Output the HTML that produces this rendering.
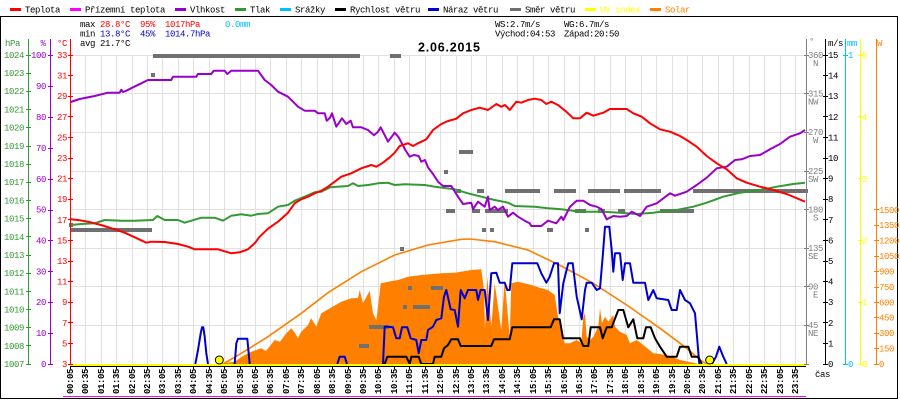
<!DOCTYPE html>
<html><head><meta charset="utf-8"><style>
html,body{margin:0;padding:0;background:#fff;}
svg{display:block;}
.t{font-family:"Liberation Mono","DejaVu Sans Mono",monospace;font-size:9px;letter-spacing:-0.4px;}
.b{font-weight:bold;}
</style></head><body>
<svg width="900" height="400" viewBox="0 0 900 400" xmlns="http://www.w3.org/2000/svg">
<rect x="0" y="0" width="900" height="400" fill="#fff"/>
<!-- frame -->
<g fill="none" stroke="#000" stroke-width="1" shape-rendering="crispEdges">
<line x1="0" y1="16.5" x2="898" y2="16.5"/>
<line x1="0.5" y1="16" x2="0.5" y2="399"/>
<line x1="897.5" y1="16" x2="897.5" y2="399"/>
<line x1="0" y1="398.5" x2="898" y2="398.5"/>
</g>
<!-- legend -->
<g shape-rendering="crispEdges">
<rect x="10" y="8" width="11" height="3" fill="#ff0000"/>
<rect x="70" y="8" width="11" height="3" fill="#ff00ff"/>
<rect x="175" y="8" width="11" height="3" fill="#9900cc"/>
<rect x="235" y="8" width="11" height="3" fill="#339933"/>
<rect x="280" y="8" width="11" height="3" fill="#00bfff"/>
<rect x="335" y="8" width="11" height="3" fill="#000000"/>
<rect x="428" y="8" width="11" height="3" fill="#0000cc"/>
<rect x="510" y="8" width="11" height="3" fill="#707070"/>
<rect x="585" y="8" width="11" height="3" fill="#ffff00"/>
<rect x="650" y="8" width="11" height="3" fill="#ff8000"/>
</g>
<g class="t" fill="#000">
<text x="25" y="12.5">Teplota</text>
<text x="85" y="12.5">Přízemní teplota</text>
<text x="190" y="12.5">Vlhkost</text>
<text x="250" y="12.5">Tlak</text>
<text x="295" y="12.5">Srážky</text>
<text x="350" y="12.5">Rychlost větru</text>
<text x="443" y="12.5">Náraz větru</text>
<text x="525" y="12.5">Směr větru</text>
<text x="600" y="12.5" fill="#ffff00">UV index</text>
<text x="665" y="12.5" fill="#ff8000">Solar</text>
</g>
<!-- stats -->
<g class="t">
<text x="80" y="27" fill="#000">max</text>
<text x="100" y="27" fill="#ff0000">28.8°C</text>
<text x="140" y="27" fill="#ff0000">95%</text>
<text x="165" y="27" fill="#ff0000">1017hPa</text>
<text x="225" y="27" fill="#00bfff">0.0mm</text>
<text x="80" y="36.5" fill="#000">min</text>
<text x="100" y="36.5" fill="#0000cc">13.8°C</text>
<text x="140" y="36.5" fill="#0000cc">45%</text>
<text x="165" y="36.5" fill="#0000cc">1014.7hPa</text>
<text x="80" y="46" fill="#000">avg 21.7°C</text>
<text x="495" y="27" fill="#000">WS:2.7m/s</text>
<text x="564" y="27" fill="#000">WG:6.7m/s</text>
<text x="495" y="36.5" fill="#000">Východ:04:53</text>
<text x="564" y="36.5" fill="#000">Západ:20:50</text>
</g>
<text x="418" y="51.5" font-family="Liberation Sans, sans-serif" font-weight="bold" font-size="12.5" textLength="62" lengthAdjust="spacing" fill="#000">2.06.2015</text>

<!-- grid -->
<g stroke="#e4e0e0" stroke-width="1" shape-rendering="crispEdges">
<line x1="85.5" y1="55" x2="85.5" y2="364"/><line x1="101.5" y1="55" x2="101.5" y2="364"/><line x1="116.5" y1="55" x2="116.5" y2="364"/><line x1="132.5" y1="55" x2="132.5" y2="364"/><line x1="147.5" y1="55" x2="147.5" y2="364"/><line x1="162.5" y1="55" x2="162.5" y2="364"/><line x1="178.5" y1="55" x2="178.5" y2="364"/><line x1="193.5" y1="55" x2="193.5" y2="364"/><line x1="209.5" y1="55" x2="209.5" y2="364"/><line x1="224.5" y1="55" x2="224.5" y2="364"/><line x1="240.5" y1="55" x2="240.5" y2="364"/><line x1="255.5" y1="55" x2="255.5" y2="364"/><line x1="270.5" y1="55" x2="270.5" y2="364"/><line x1="286.5" y1="55" x2="286.5" y2="364"/><line x1="301.5" y1="55" x2="301.5" y2="364"/><line x1="317.5" y1="55" x2="317.5" y2="364"/><line x1="332.5" y1="55" x2="332.5" y2="364"/><line x1="348.5" y1="55" x2="348.5" y2="364"/><line x1="363.5" y1="55" x2="363.5" y2="364"/><line x1="378.5" y1="55" x2="378.5" y2="364"/><line x1="394.5" y1="55" x2="394.5" y2="364"/><line x1="409.5" y1="55" x2="409.5" y2="364"/><line x1="425.5" y1="55" x2="425.5" y2="364"/><line x1="440.5" y1="55" x2="440.5" y2="364"/><line x1="456.5" y1="55" x2="456.5" y2="364"/><line x1="471.5" y1="55" x2="471.5" y2="364"/><line x1="486.5" y1="55" x2="486.5" y2="364"/><line x1="502.5" y1="55" x2="502.5" y2="364"/><line x1="517.5" y1="55" x2="517.5" y2="364"/><line x1="533.5" y1="55" x2="533.5" y2="364"/><line x1="548.5" y1="55" x2="548.5" y2="364"/><line x1="564.5" y1="55" x2="564.5" y2="364"/><line x1="579.5" y1="55" x2="579.5" y2="364"/><line x1="594.5" y1="55" x2="594.5" y2="364"/><line x1="610.5" y1="55" x2="610.5" y2="364"/><line x1="625.5" y1="55" x2="625.5" y2="364"/><line x1="641.5" y1="55" x2="641.5" y2="364"/><line x1="656.5" y1="55" x2="656.5" y2="364"/><line x1="672.5" y1="55" x2="672.5" y2="364"/><line x1="687.5" y1="55" x2="687.5" y2="364"/><line x1="702.5" y1="55" x2="702.5" y2="364"/><line x1="718.5" y1="55" x2="718.5" y2="364"/><line x1="733.5" y1="55" x2="733.5" y2="364"/><line x1="749.5" y1="55" x2="749.5" y2="364"/><line x1="764.5" y1="55" x2="764.5" y2="364"/><line x1="780.5" y1="55" x2="780.5" y2="364"/><line x1="795.5" y1="55" x2="795.5" y2="364"/>
<line x1="70" y1="55.5" x2="806" y2="55.5"/><line x1="70" y1="93.5" x2="806" y2="93.5"/><line x1="70" y1="132.5" x2="806" y2="132.5"/><line x1="70" y1="171.5" x2="806" y2="171.5"/><line x1="70" y1="209.5" x2="806" y2="209.5"/><line x1="70" y1="248.5" x2="806" y2="248.5"/><line x1="70" y1="286.5" x2="806" y2="286.5"/><line x1="70" y1="325.5" x2="806" y2="325.5"/>
</g>

<!-- solar fill -->
<polygon fill="#ff8000" points="221,364.5 224.7,363 234.7,361.7 243,356 251.3,351.7 261.3,348.3 266,351 274.7,340 280,341.7 286.3,333.3 291.3,328.3 295,333 298,338.3 301,332 308,325 311.3,318.3 316.3,326.7 321.3,313.3 330,308.3 341.3,301.7 351.3,298.3 358,298 359.7,290 363,303.3 369.7,290.7 373,313.3 376.3,320 378,306.7 380.7,283.3 388,281.7 398,280 408,276.7 421.3,275 441.3,273.3 454.7,272.7 471.3,270 481.3,269.3 484,290 485,330 487.3,276.7 491.3,326.7 494.7,283.3 501.3,330 504.7,280 509.7,336.7 511.3,283.3 518,281.7 531.3,285 541.3,288.3 548,290 554.7,295 558,316.7 561.3,333.3 564.7,343.3 570,343.3 576.7,340 581.3,343.3 583.3,316.7 585,313.3 586.7,336.7 590,340 593.3,336.7 598.3,326.7 600,308.3 602,323 605,316.7 608.3,321.7 613.3,315 615,326.7 620,331.7 626.7,335 630,343.3 636.7,340 643.3,345 653.3,353.3 666.7,355 680,360 693.3,362.7 700,364.5"/>
<!-- theoretical solar -->
<polyline fill="none" stroke="#ff8000" stroke-width="1.6" points="222,364 224.7,363 241.3,353.3 268,336.7 301.3,313.3 328,292.7 361.3,271.7 394.7,255 428,245 461.3,239.3 470,239 494.7,241.7 528,250 561.3,266 593.3,283.3 626.7,305 660,328.3 686.7,348.3 700,360 706.7,364"/>

<!-- wind direction -->
<g fill="#707070" shape-rendering="crispEdges">
<rect x="153" y="54" width="207" height="4"/>
<rect x="390" y="54" width="11" height="4"/>
<rect x="151" y="73" width="4" height="4"/>
<rect x="70" y="228" width="82" height="4"/>
<rect x="69" y="223" width="4" height="4"/>
<rect x="459" y="150" width="14" height="4"/>
<rect x="444" y="170" width="4" height="4"/>
<rect x="400" y="247" width="4" height="4"/>
<rect x="408" y="286" width="4" height="4"/>
<rect x="431" y="286" width="12" height="4"/>
<rect x="403" y="305" width="4" height="4"/>
<rect x="413" y="305" width="17" height="4"/>
<rect x="369" y="325" width="20" height="4"/>
<rect x="359" y="344" width="10" height="4"/>
<rect x="456" y="189" width="5" height="4"/>
<rect x="477" y="189" width="7" height="4"/>
<rect x="505" y="189" width="35" height="4"/>
<rect x="554" y="189" width="22" height="4"/>
<rect x="588" y="189" width="32" height="4"/>
<rect x="624" y="189" width="37" height="4"/>
<rect x="693" y="189" width="115" height="4"/>
<rect x="446" y="209" width="9" height="4"/>
<rect x="472" y="209" width="8" height="4"/>
<rect x="485" y="209" width="23" height="4"/>
<rect x="575" y="209" width="11" height="4"/>
<rect x="598" y="209" width="7" height="4"/>
<rect x="618" y="209" width="7" height="4"/>
<rect x="660" y="209" width="34" height="4"/>
<rect x="482" y="228" width="4" height="4"/>
<rect x="490" y="228" width="4" height="4"/>
<rect x="547" y="228" width="6" height="4"/>
<rect x="585" y="228" width="4" height="4"/>
</g>

<!-- pressure -->
<polyline fill="none" stroke="#339933" stroke-width="2" stroke-linejoin="round" points="70.7,225 81.3,224 94.7,223.3 104.7,220 121.3,220.7 134.7,220.7 153,220 157.3,216 164.7,220 178,220 184.7,222.7 201.3,217.7 214.7,217.7 223,220.7 231.3,215.7 241.3,214.3 251.3,215.7 258,214 268,213.3 278,206.7 288,205 294.7,200.7 304.7,196.7 314.7,192.3 321.3,191.7 330,187.3 348,186 353,183.3 358,186 368,185 378,183.3 388,182.7 394.7,185 404.7,184.3 424.7,185 434.7,186.7 454.7,189.3 468,193.3 481.3,196.7 494.7,200 508,202.7 514.7,206 534.7,206.7 548,208.3 561.3,209.3 580,211.7 603.3,211.7 620,212.7 636.7,214 653.3,212.7 660,211.7 676.7,210 693.3,206.7 706.7,202.7 723.3,196.7 740,192.7 760,190 776.7,186.7 793.3,184 805,182.7"/>
<!-- humidity -->
<polyline fill="none" stroke="#9900cc" stroke-width="2" stroke-linejoin="round" points="70.7,102 79.7,99 94.7,96 108,92.7 119.7,92.7 121.3,89.7 123,92 126.3,90.7 133,87.3 141.3,83.3 148,80 171.3,80 173,76.7 196.3,76.7 198,74 211.3,74 213.7,70.7 224.7,70.7 227.3,74 231.3,70.7 258,70.7 264.7,80 271.3,85 278,91.7 288,96.7 298,106.7 304.7,110.7 314.7,110.7 318,113.3 324.7,113.3 326.7,120.7 330,117.7 332,113.3 336.3,126.7 342,118.3 346.3,124 350.7,120.7 353,127.3 361.3,127.3 368,130 374,135.3 378,131.7 380.7,127.3 388,141.7 394.7,132.7 398.7,137.3 405.3,150 409.7,156.7 414,155 418.7,156 421.3,161.7 425,160 428,167.3 433,174 438,181.7 443,186 451.3,186 458,196.7 463,204 471.3,202.7 473,209.3 478,201.7 484.7,206.7 488,196.7 489.7,210 494.7,206.7 498,210 503,206.7 508,216.7 513,212.7 518,216.7 524.7,220.7 529.7,223.3 531.3,226 541.3,226 548,220.7 556.3,223.3 561.3,216.7 563.3,220 570,206.7 576.7,200.7 583.3,200.7 590,205 596.7,206.7 601.7,209.3 606.7,219.3 613.3,216 620,216.7 626.7,216 631.7,211.7 640,216 646.7,206.7 656.7,203.3 670,193.3 675,195.7 686.7,191.7 696.7,185 706.7,177.7 716.7,168.3 726.7,166.7 735,160 741.7,159.3 750,156 760,155 770,149.3 780,144 790,136.7 800,133.3 805,130"/>
<!-- temperature -->
<polyline fill="none" stroke="#ff0000" stroke-width="2" stroke-linejoin="round" points="70.7,219.3 78,220 88,221.7 101,225 114.7,229.3 124.7,232.7 134.7,237.3 146.3,242.7 151.3,241.7 164.7,242 178,244 188,246.7 194.7,249.3 218,249.3 224.7,251.3 231.3,253.3 239.7,252.3 248,249.3 254.7,243.3 259.7,236.7 268,228.7 278,221.7 288,212.7 294.7,203.3 301.3,199.3 308,196.7 314.7,193.3 321.3,190.7 328,186.7 334.7,181.7 341.3,176.7 351.3,173.3 361.3,168.3 371.3,165 376.3,166.7 383,162.7 389.7,157.3 394.7,152.7 399.7,146 408,143.3 413,146 418,143.3 426.3,139.3 433,130 441.3,124 448,121 456.3,118.7 463,113.3 471.3,110 479.7,107.7 488,110 496.3,104 501.3,106.7 505,105 509.7,110 516.3,101.7 521.3,102.7 528,100 534.7,98.7 541.3,100 546.3,104 551.3,101.7 558,105 566.3,111.7 573.3,118.3 580,118.3 586.7,112.7 593.3,115.7 603.3,112.7 610,109 626.7,109 633.3,113.3 641.7,116.7 650,123.3 660,129.3 670,131.7 680,136 686.7,140 696.7,146.7 706.7,156 716.7,163.3 726.7,169.3 736.7,178.3 746.7,182.7 760,186.7 773.3,190 786.7,194 805,201.7"/>

<!-- wind gust -->
<g fill="none" stroke="#0000cc" stroke-width="2" stroke-linejoin="round">
<polyline points="195.3,364 198,350 200.7,333.3 202,327.3 203.3,327.3 204.7,336.7 206.3,353.3 208,364"/>
<polyline points="234.7,364 236.3,343.3 238,338.7 247.3,338.7 249.7,364"/>
<polyline points="337.3,364 339.7,356.7 344.7,356.7 347,364"/>
<polyline points="383,364 384.7,326.7 388,326.7 393,327.3 396.3,338.3 399.7,338.3 402,327.3 407.3,327.3 410.7,338.3 416.3,340 418.7,353.3 421.3,340 426.3,340 428,330 433,326.7 436.3,320 441.3,318.3 444,296.7 446.3,290 450.7,309.3 454.7,310 458,326.7 460.7,290 464.7,298.3 468,290 476.3,290 478,300 480.7,290 484.7,290 488,320 491.3,273.3 496.3,272.7 499.7,282.7 504.7,282.7 507.3,290 509.7,290 512.3,263.3 537.3,263.3 541.3,273.3 546.3,282.7 549.7,276.7 554,263.3 558,263.3 559.7,313.3 563.3,283.3 568.3,263.3 572.7,263.3 576.7,296.7 581.7,319.3 585,290 586.7,282.7 591.7,282.7 596.7,290 600,288.3 602.7,256.7 605,226.7 609.3,226.7 611.7,250 613.3,271.7 615,253.3 620,253.3 622.7,280 625,263.3 630,263.3 633.3,282.7 645,282.7 648.3,300 653.3,290 656.7,298.3 668.3,300 671.7,310 676.7,310 680,290 685,300 690,303.3 695,313.3 697.3,340 699.3,364"/>
<polyline points="712,364 716,356.7 719.3,346.7 723.3,356.7 726.7,364"/>
</g>
<!-- wind speed -->
<polyline fill="none" stroke="#000" stroke-width="2" stroke-linejoin="round" points="384.7,364 387.3,356.7 406.3,356.7 409.7,364 411.3,356.7 418.7,356.7 421.3,364 433,364 434.7,356.7 441.3,356.7 444,348.3 448,345 451.3,339.3 458,339.3 460.7,346 491.3,346 494,339.3 509.7,339.3 512.3,327.3 550.7,327.3 554,319.3 559.7,319.3 563,338.3 580,338.3 583.3,346 588.3,346 590.7,327.3 600,327.3 602.7,338.3 606.7,327.3 611.7,327.3 618.3,310 623.3,310 628.3,327.3 633.3,319.3 637.3,338.3 643.3,338.3 646,327.3 650.7,327.3 655,338.3 660,346.7 666.7,356.7 676.7,356.7 680,346.7 688.3,346.7 691.7,356.7 698.3,356.7 701.7,364"/>

<!-- UV / bottom axis -->
<g shape-rendering="crispEdges">
<rect x="70" y="364" width="736" height="2" fill="#ffff00"/>
<rect x="70" y="366" width="736" height="1" fill="#000"/>
<rect x="63" y="396" width="743" height="1" fill="#ff00ff"/>
</g>
<circle cx="219.3" cy="360" r="4" fill="#ffff00" stroke="#000" stroke-width="1"/>
<circle cx="709.7" cy="360" r="4" fill="#ffff00" stroke="#000" stroke-width="1"/>
<g stroke="#000" stroke-width="1" shape-rendering="crispEdges">
<line x1="70.5" y1="366" x2="70.5" y2="369"/><line x1="85.5" y1="366" x2="85.5" y2="369"/><line x1="101.5" y1="366" x2="101.5" y2="369"/><line x1="116.5" y1="366" x2="116.5" y2="369"/><line x1="132.5" y1="366" x2="132.5" y2="369"/><line x1="147.5" y1="366" x2="147.5" y2="369"/><line x1="162.5" y1="366" x2="162.5" y2="369"/><line x1="178.5" y1="366" x2="178.5" y2="369"/><line x1="193.5" y1="366" x2="193.5" y2="369"/><line x1="209.5" y1="366" x2="209.5" y2="369"/><line x1="224.5" y1="366" x2="224.5" y2="369"/><line x1="240.5" y1="366" x2="240.5" y2="369"/><line x1="255.5" y1="366" x2="255.5" y2="369"/><line x1="270.5" y1="366" x2="270.5" y2="369"/><line x1="286.5" y1="366" x2="286.5" y2="369"/><line x1="301.5" y1="366" x2="301.5" y2="369"/><line x1="317.5" y1="366" x2="317.5" y2="369"/><line x1="332.5" y1="366" x2="332.5" y2="369"/><line x1="348.5" y1="366" x2="348.5" y2="369"/><line x1="363.5" y1="366" x2="363.5" y2="369"/><line x1="378.5" y1="366" x2="378.5" y2="369"/><line x1="394.5" y1="366" x2="394.5" y2="369"/><line x1="409.5" y1="366" x2="409.5" y2="369"/><line x1="425.5" y1="366" x2="425.5" y2="369"/><line x1="440.5" y1="366" x2="440.5" y2="369"/><line x1="456.5" y1="366" x2="456.5" y2="369"/><line x1="471.5" y1="366" x2="471.5" y2="369"/><line x1="486.5" y1="366" x2="486.5" y2="369"/><line x1="502.5" y1="366" x2="502.5" y2="369"/><line x1="517.5" y1="366" x2="517.5" y2="369"/><line x1="533.5" y1="366" x2="533.5" y2="369"/><line x1="548.5" y1="366" x2="548.5" y2="369"/><line x1="564.5" y1="366" x2="564.5" y2="369"/><line x1="579.5" y1="366" x2="579.5" y2="369"/><line x1="594.5" y1="366" x2="594.5" y2="369"/><line x1="610.5" y1="366" x2="610.5" y2="369"/><line x1="625.5" y1="366" x2="625.5" y2="369"/><line x1="641.5" y1="366" x2="641.5" y2="369"/><line x1="656.5" y1="366" x2="656.5" y2="369"/><line x1="672.5" y1="366" x2="672.5" y2="369"/><line x1="687.5" y1="366" x2="687.5" y2="369"/><line x1="702.5" y1="366" x2="702.5" y2="369"/><line x1="718.5" y1="366" x2="718.5" y2="369"/><line x1="733.5" y1="366" x2="733.5" y2="369"/><line x1="749.5" y1="366" x2="749.5" y2="369"/><line x1="764.5" y1="366" x2="764.5" y2="369"/><line x1="780.5" y1="366" x2="780.5" y2="369"/><line x1="795.5" y1="366" x2="795.5" y2="369"/>
</g>
<!-- time labels -->
<g class="t b" fill="#000">
<text transform="translate(73,394) rotate(-90)">00:05</text>
<text transform="translate(88,394) rotate(-90)">00:35</text>
<text transform="translate(104,394) rotate(-90)">01:05</text>
<text transform="translate(119,394) rotate(-90)">01:35</text>
<text transform="translate(135,394) rotate(-90)">02:05</text>
<text transform="translate(150,394) rotate(-90)">02:35</text>
<text transform="translate(165,394) rotate(-90)">03:05</text>
<text transform="translate(181,394) rotate(-90)">03:35</text>
<text transform="translate(196,394) rotate(-90)">04:05</text>
<text transform="translate(212,394) rotate(-90)">04:35</text>
<text transform="translate(227,394) rotate(-90)">05:05</text>
<text transform="translate(243,394) rotate(-90)">05:35</text>
<text transform="translate(258,394) rotate(-90)">06:05</text>
<text transform="translate(273,394) rotate(-90)">06:35</text>
<text transform="translate(289,394) rotate(-90)">07:05</text>
<text transform="translate(304,394) rotate(-90)">07:35</text>
<text transform="translate(320,394) rotate(-90)">08:05</text>
<text transform="translate(335,394) rotate(-90)">08:35</text>
<text transform="translate(351,394) rotate(-90)">09:05</text>
<text transform="translate(366,394) rotate(-90)">09:35</text>
<text transform="translate(381,394) rotate(-90)">10:05</text>
<text transform="translate(397,394) rotate(-90)">10:35</text>
<text transform="translate(412,394) rotate(-90)">11:05</text>
<text transform="translate(428,394) rotate(-90)">11:35</text>
<text transform="translate(443,394) rotate(-90)">12:05</text>
<text transform="translate(459,394) rotate(-90)">12:35</text>
<text transform="translate(474,394) rotate(-90)">13:05</text>
<text transform="translate(489,394) rotate(-90)">13:35</text>
<text transform="translate(505,394) rotate(-90)">14:05</text>
<text transform="translate(520,394) rotate(-90)">14:35</text>
<text transform="translate(536,394) rotate(-90)">15:05</text>
<text transform="translate(551,394) rotate(-90)">15:35</text>
<text transform="translate(567,394) rotate(-90)">16:05</text>
<text transform="translate(582,394) rotate(-90)">16:35</text>
<text transform="translate(597,394) rotate(-90)">17:05</text>
<text transform="translate(613,394) rotate(-90)">17:35</text>
<text transform="translate(628,394) rotate(-90)">18:05</text>
<text transform="translate(644,394) rotate(-90)">18:35</text>
<text transform="translate(659,394) rotate(-90)">19:05</text>
<text transform="translate(675,394) rotate(-90)">19:35</text>
<text transform="translate(690,394) rotate(-90)">20:05</text>
<text transform="translate(705,394) rotate(-90)">20:35</text>
<text transform="translate(721,394) rotate(-90)">21:05</text>
<text transform="translate(736,394) rotate(-90)">21:35</text>
<text transform="translate(752,394) rotate(-90)">22:05</text>
<text transform="translate(767,394) rotate(-90)">22:35</text>
<text transform="translate(783,394) rotate(-90)">23:05</text>
<text transform="translate(798,394) rotate(-90)">23:35</text>
</g>
<text class="t" x="815" y="377" fill="#000">čas</text>

<!-- LEFT AXES -->
<!-- hPa -->
<g stroke="#339933" stroke-width="1" shape-rendering="crispEdges">
<line x1="28.5" y1="39" x2="28.5" y2="365"/>
<line x1="26" y1="55.5" x2="31" y2="55.5"/><line x1="26" y1="73.5" x2="31" y2="73.5"/><line x1="26" y1="91.5" x2="31" y2="91.5"/><line x1="26" y1="109.5" x2="31" y2="109.5"/><line x1="26" y1="127.5" x2="31" y2="127.5"/><line x1="26" y1="146.5" x2="31" y2="146.5"/><line x1="26" y1="164.5" x2="31" y2="164.5"/><line x1="26" y1="182.5" x2="31" y2="182.5"/><line x1="26" y1="200.5" x2="31" y2="200.5"/><line x1="26" y1="218.5" x2="31" y2="218.5"/><line x1="26" y1="236.5" x2="31" y2="236.5"/><line x1="26" y1="255.5" x2="31" y2="255.5"/><line x1="26" y1="273.5" x2="31" y2="273.5"/><line x1="26" y1="291.5" x2="31" y2="291.5"/><line x1="26" y1="309.5" x2="31" y2="309.5"/><line x1="26" y1="327.5" x2="31" y2="327.5"/><line x1="26" y1="345.5" x2="31" y2="345.5"/><line x1="26" y1="364.5" x2="31" y2="364.5"/>
</g>
<g class="t" fill="#339933" text-anchor="end">
<text x="24" y="46" text-anchor="start" x2="0" dx="-19">hPa</text>
<text x="24" y="58">1024</text><text x="24" y="76">1023</text><text x="24" y="94">1022</text><text x="24" y="112.5">1021</text><text x="24" y="130.5">1020</text><text x="24" y="149">1019</text><text x="24" y="167">1018</text><text x="24" y="185">1017</text><text x="24" y="203.5">1016</text><text x="24" y="221.5">1015</text><text x="24" y="240">1014</text><text x="24" y="258">1013</text><text x="24" y="276">1012</text><text x="24" y="294.5">1011</text><text x="24" y="312.5">1010</text><text x="24" y="330.5">1009</text><text x="24" y="349">1008</text><text x="24" y="367">1007</text>
</g>
<!-- % -->
<g stroke="#9900cc" stroke-width="1" shape-rendering="crispEdges">
<line x1="50.5" y1="39" x2="50.5" y2="365"/>
<line x1="48" y1="55.5" x2="53" y2="55.5"/><line x1="48" y1="86.5" x2="53" y2="86.5"/><line x1="48" y1="117.5" x2="53" y2="117.5"/><line x1="48" y1="148.5" x2="53" y2="148.5"/><line x1="48" y1="179.5" x2="53" y2="179.5"/><line x1="48" y1="210.5" x2="53" y2="210.5"/><line x1="48" y1="240.5" x2="53" y2="240.5"/><line x1="48" y1="271.5" x2="53" y2="271.5"/><line x1="48" y1="302.5" x2="53" y2="302.5"/><line x1="48" y1="333.5" x2="53" y2="333.5"/><line x1="48" y1="364.5" x2="53" y2="364.5"/>
</g>
<g class="t" fill="#9900cc" text-anchor="end">
<text x="45.5" y="46">%</text>
<text x="46" y="58">100</text><text x="46" y="89">90</text><text x="46" y="120">80</text><text x="46" y="151">70</text><text x="46" y="182">60</text><text x="46" y="212.5">50</text><text x="46" y="243.5">40</text><text x="46" y="274.5">30</text><text x="46" y="305">20</text><text x="46" y="336">10</text><text x="46" y="367">0</text>
</g>
<!-- °C -->
<g stroke="#ff0000" stroke-width="1" shape-rendering="crispEdges">
<line x1="70.5" y1="39" x2="70.5" y2="365"/>
<line x1="68" y1="55.5" x2="73" y2="55.5"/><line x1="68" y1="75.5" x2="73" y2="75.5"/><line x1="68" y1="96.5" x2="73" y2="96.5"/><line x1="68" y1="116.5" x2="73" y2="116.5"/><line x1="68" y1="137.5" x2="73" y2="137.5"/><line x1="68" y1="158.5" x2="73" y2="158.5"/><line x1="68" y1="178.5" x2="73" y2="178.5"/><line x1="68" y1="199.5" x2="73" y2="199.5"/><line x1="68" y1="219.5" x2="73" y2="219.5"/><line x1="68" y1="240.5" x2="73" y2="240.5"/><line x1="68" y1="261.5" x2="73" y2="261.5"/><line x1="68" y1="281.5" x2="73" y2="281.5"/><line x1="68" y1="302.5" x2="73" y2="302.5"/><line x1="68" y1="322.5" x2="73" y2="322.5"/><line x1="68" y1="343.5" x2="73" y2="343.5"/><line x1="68" y1="364.5" x2="73" y2="364.5"/>
</g>
<g class="t" fill="#ff0000" text-anchor="end">
<text x="67" y="46">°C</text>
<text x="67" y="58">33</text><text x="67" y="78.5">31</text><text x="67" y="99">29</text><text x="67" y="120">27</text><text x="67" y="140.5">25</text><text x="67" y="161">23</text><text x="67" y="181.5">21</text><text x="67" y="202">19</text><text x="67" y="223">17</text><text x="67" y="243.5">15</text><text x="67" y="264">13</text><text x="67" y="284.5">11</text><text x="67" y="305">9</text><text x="67" y="326">7</text><text x="67" y="346.5">5</text><text x="67" y="367">3</text>
</g>

<!-- RIGHT AXES -->
<!-- degrees -->
<g stroke="#808080" stroke-width="1" shape-rendering="crispEdges">
<line x1="806.5" y1="39" x2="806.5" y2="365"/>
<line x1="804" y1="55.5" x2="809" y2="55.5"/><line x1="804" y1="93.5" x2="809" y2="93.5"/><line x1="804" y1="132.5" x2="809" y2="132.5"/><line x1="804" y1="171.5" x2="809" y2="171.5"/><line x1="804" y1="209.5" x2="809" y2="209.5"/><line x1="804" y1="248.5" x2="809" y2="248.5"/><line x1="804" y1="286.5" x2="809" y2="286.5"/><line x1="804" y1="325.5" x2="809" y2="325.5"/><line x1="804" y1="364.5" x2="809" y2="364.5"/>
</g>
<g class="t" fill="#808080">
<text x="809" y="44">°</text>
<text x="808" y="58">360</text><text x="818" y="66" text-anchor="end">N</text>
<text x="808" y="96.5">315</text><text x="818" y="104.5" text-anchor="end">NW</text>
<text x="808" y="135">270</text><text x="818" y="143" text-anchor="end">W</text>
<text x="808" y="174">225</text><text x="818" y="182" text-anchor="end">SW</text>
<text x="808" y="212.5">180</text><text x="818" y="220.5" text-anchor="end">S</text>
<text x="808" y="251">135</text><text x="818" y="259" text-anchor="end">SE</text>
<text x="808" y="289.5">90</text><text x="818" y="297.5" text-anchor="end">E</text>
<text x="808" y="328">45</text><text x="818" y="336" text-anchor="end">NE</text>
</g>
<!-- m/s -->
<g stroke="#000" stroke-width="1" shape-rendering="crispEdges">
<line x1="825.5" y1="39" x2="825.5" y2="365"/>
<line x1="823" y1="55.5" x2="828" y2="55.5"/><line x1="823" y1="75.5" x2="828" y2="75.5"/><line x1="823" y1="96.5" x2="828" y2="96.5"/><line x1="823" y1="116.5" x2="828" y2="116.5"/><line x1="823" y1="137.5" x2="828" y2="137.5"/><line x1="823" y1="158.5" x2="828" y2="158.5"/><line x1="823" y1="178.5" x2="828" y2="178.5"/><line x1="823" y1="199.5" x2="828" y2="199.5"/><line x1="823" y1="219.5" x2="828" y2="219.5"/><line x1="823" y1="240.5" x2="828" y2="240.5"/><line x1="823" y1="261.5" x2="828" y2="261.5"/><line x1="823" y1="281.5" x2="828" y2="281.5"/><line x1="823" y1="302.5" x2="828" y2="302.5"/><line x1="823" y1="322.5" x2="828" y2="322.5"/><line x1="823" y1="343.5" x2="828" y2="343.5"/><line x1="823" y1="364.5" x2="828" y2="364.5"/>
</g>
<g class="t" fill="#000">
<text x="828" y="46">m/s</text>
<text x="828" y="58">15</text><text x="828" y="78.5">14</text><text x="828" y="99">13</text><text x="828" y="120">12</text><text x="828" y="140.5">11</text><text x="828" y="161">10</text><text x="828" y="181.5">9</text><text x="828" y="202">8</text><text x="828" y="223">7</text><text x="828" y="243.5">6</text><text x="828" y="264">5</text><text x="828" y="284.5">4</text><text x="828" y="305">3</text><text x="828" y="326">2</text><text x="828" y="346.5">1</text><text x="828" y="367">0</text>
</g>
<!-- mm -->
<g stroke="#00bfff" stroke-width="1" shape-rendering="crispEdges">
<line x1="845.5" y1="39" x2="845.5" y2="365"/>
<line x1="843" y1="55.5" x2="848" y2="55.5"/><line x1="843" y1="364.5" x2="848" y2="364.5"/>
</g>
<g class="t" fill="#00bfff">
<text x="847" y="46">mm</text>
<text x="848" y="58">1</text><text x="848" y="367">0</text>
</g>
<!-- UV -->
<g stroke="#ffff00" stroke-width="1" shape-rendering="crispEdges">
<line x1="860.5" y1="39" x2="860.5" y2="365"/>
<line x1="858" y1="55.5" x2="863" y2="55.5"/><line x1="858" y1="116.5" x2="863" y2="116.5"/><line x1="858" y1="178.5" x2="863" y2="178.5"/><line x1="858" y1="240.5" x2="863" y2="240.5"/><line x1="858" y1="302.5" x2="863" y2="302.5"/><line x1="858" y1="364.5" x2="863" y2="364.5"/>
</g>
<g class="t" fill="#ffff00">
<text x="862" y="58">5</text><text x="862" y="120">4</text><text x="862" y="182">3</text><text x="862" y="243.5">2</text><text x="862" y="305">1</text><text x="862" y="367">0</text>
</g>
<!-- W -->
<g stroke="#ff8000" stroke-width="1" shape-rendering="crispEdges">
<line x1="876.5" y1="39" x2="876.5" y2="365"/>
<line x1="874" y1="209.5" x2="879" y2="209.5"/><line x1="874" y1="225.5" x2="879" y2="225.5"/><line x1="874" y1="240.5" x2="879" y2="240.5"/><line x1="874" y1="256.5" x2="879" y2="256.5"/><line x1="874" y1="271.5" x2="879" y2="271.5"/><line x1="874" y1="287.5" x2="879" y2="287.5"/><line x1="874" y1="302.5" x2="879" y2="302.5"/><line x1="874" y1="317.5" x2="879" y2="317.5"/><line x1="874" y1="333.5" x2="879" y2="333.5"/><line x1="874" y1="348.5" x2="879" y2="348.5"/><line x1="874" y1="364.5" x2="879" y2="364.5"/>
</g>
<g class="t" fill="#ff8000">
<text x="877" y="46">W</text>
<text x="879" y="213">1500</text><text x="879" y="228">1350</text><text x="879" y="243.5">1200</text><text x="879" y="259">1050</text><text x="879" y="274.5">900</text><text x="879" y="290">750</text><text x="879" y="305.5">600</text><text x="879" y="320.5">450</text><text x="879" y="336">300</text><text x="879" y="351.5">150</text><text x="879" y="367">0</text>
</g>
</svg>
</body></html>
